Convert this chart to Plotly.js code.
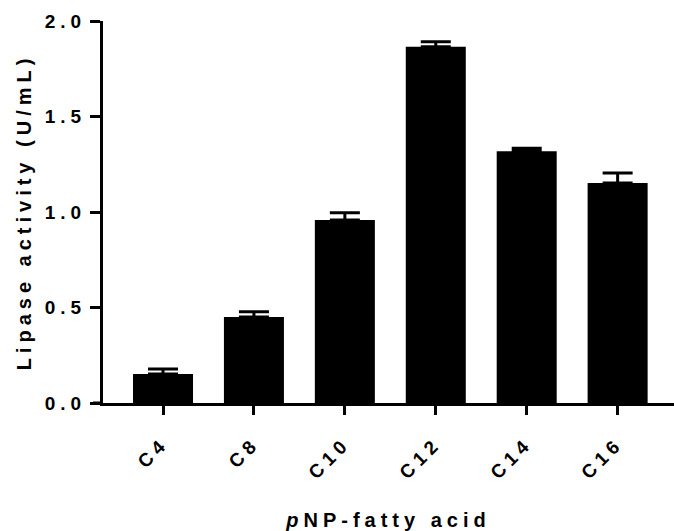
<!DOCTYPE html>
<html>
<head>
<meta charset="utf-8">
<script src="https://cdn.plot.ly/plotly-3.0.1.min.js"></script>
<style>
  html, body { margin: 0; padding: 0; background: #fff; }
  #chart { width: 674px; height: 531px; }
  .xtick text, .ytick text { letter-spacing: 5px; }
  .xtitle, .ytitle { letter-spacing: 5px; }
</style>
</head>
<body>
<div id="chart"></div>
<script>
const categories = ["C4", "C8", "C10", "C12", "C14", "C16"];
const activity = [0.152, 0.450, 0.958, 1.865, 1.318, 1.152];
const errorUp = [0.026, 0.028, 0.038, 0.027, 0.016, 0.052];
const errorDown = [0, 0, 0, 0, 0, 0];
const yTickVals = [0, 0.5, 1.0, 1.5, 2.0];
const yTickText = ["0.0", "0.5", "1.0", "1.5", "2.0"];

const font = "Liberation Sans, Arial, sans-serif";

const trace = {
  type: "bar",
  x: categories,
  y: activity,
  marker: { color: "#000000", line: { color: "#000000", width: 0 } },
  error_y: {
    type: "data",
    symmetric: false,
    array: errorUp,
    arrayminus: errorDown,
    color: "#000000",
    thickness: 3,
    width: 15
  },
  hoverinfo: "none"
};

const layout = {
  width: 674,
  height: 531,
  margin: { l: 103, r: 0, t: 21, b: 128 },
  paper_bgcolor: "#ffffff",
  plot_bgcolor: "#ffffff",
  showlegend: false,
  bargap: 0.34,
  font: { family: font, color: "#000000", size: 19 },
  xaxis: {
    type: "category",
    range: [-0.66, 5.62],
    showgrid: false,
    zeroline: false,
    showline: true,
    linecolor: "#000000",
    linewidth: 3,
    ticks: "outside",
    ticklen: 9,
    tickwidth: 3,
    tickcolor: "#000000",
    tickangle: -45,
    ticklabelstandoff: 10,
    tickfont: { family: font, size: 19, color: "#000000", weight: "bold" },
    title: {
      text: "<i>p</i>NP-fatty acid",
      font: { family: font, size: 20, color: "#000000", weight: "bold" },
      standoff: 36
    }
  },
  yaxis: {
    range: [0, 2.0],
    showgrid: false,
    zeroline: false,
    showline: true,
    linecolor: "#000000",
    linewidth: 3,
    ticks: "outside",
    ticklen: 10,
    tickwidth: 3,
    tickcolor: "#000000",
    tickvals: yTickVals,
    ticktext: yTickText,
    tickfont: { family: font, size: 19, color: "#000000", weight: "bold" },
    title: {
      text: "Lipase activity (U/mL)",
      font: { family: font, size: 20, color: "#000000", weight: "bold" },
      standoff: 8
    }
  },
  shapes: [
    {
      type: "line",
      xref: "paper", yref: "y",
      x0: -10 / 571, x1: 0, y0: 0, y1: 0,
      line: { color: "#000000", width: 3 }
    }
  ]
};

Plotly.newPlot("chart", [trace], layout, { staticPlot: true, displayModeBar: false });
</script>
</body>
</html>
